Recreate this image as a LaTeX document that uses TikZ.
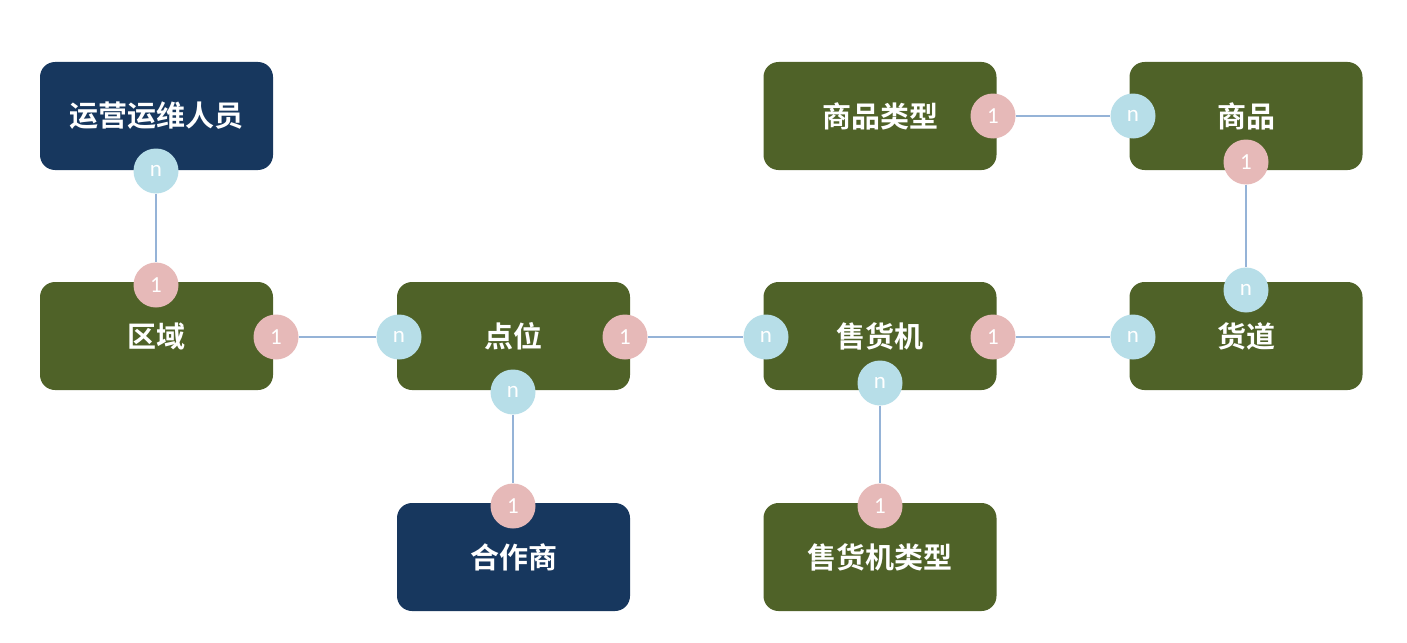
\documentclass[tikz,border=0pt]{standalone}
\usepackage{fontspec}
\newfontfamily\cjk{Noto Sans CJK SC Bold}
\newfontfamily\numfont{Carlito}
\definecolor{navy}{HTML}{17375E}
\definecolor{olive}{HTML}{4F6228}
\definecolor{pinkc}{HTML}{E6B9B8}
\definecolor{bluec}{HTML}{B7DEE8}
\definecolor{linec}{HTML}{95B3D7}
\tikzset{
  ent/.style={rounded corners=15pt, minimum width=233pt, minimum height=108pt, inner sep=0pt, text=white, font=\cjk\fontsize{29}{32}\selectfont},
  entb/.style={ent, fill=navy},
  entg/.style={ent, fill=olive},
  one/.style={circle, fill=pinkc, minimum size=45pt, inner sep=0pt, text=white, font=\numfont\fontsize{23}{24}\selectfont},
  many/.style={circle, fill=bluec, minimum size=45pt, inner sep=0pt, text=white, font=\numfont\fontsize{23}{24}\selectfont},
  rel/.style={draw=linec, line width=1.5pt}
}
\begin{document}
\begin{tikzpicture}[x=1pt,y=-1pt]
\useasboundingbox (0,0) rectangle (1407,642);
% entities
\node[entb] (ops) at (156.5,116) {运营运维人员};
\node[entg] (area) at (156.5,336) {区域};
\node[entg] (pt) at (513.5,336) {点位};
\node[entb] (partner) at (513.5,557) {合作商};
\node[entg] (vm) at (880,336) {售货机};
\node[entg] (vmtype) at (880,557) {售货机类型};
\node[entg] (lane) at (1246,336) {货道};
\node[entg] (skutype) at (880,116) {商品类型};
\node[entg] (sku) at (1246,116) {商品};
% cardinality circles
\node[many] (c1) at (156,171) {n};
\node[one] (c2) at (156,285) {1};
\node[one] (c3) at (276,337) {1};
\node[many] (c4) at (399,337) {n};
\node[one] (c5) at (625,337) {1};
\node[many] (c6) at (766,337) {n};
\node[many] (c7) at (513,392) {n};
\node[one] (c8) at (513,506) {1};
\node[one] (c9) at (993,337) {1};
\node[many] (c10) at (1133,337) {n};
\node[many] (c11) at (880,383) {n};
\node[one] (c12) at (880,506) {1};
\node[one] (c13) at (993,116) {1};
\node[many] (c14) at (1133,116) {n};
\node[one] (c15) at (1246,162) {1};
\node[many] (c16) at (1246,290) {n};
% connectors
\draw[rel] (c1) -- (c2);
\draw[rel] (c3) -- (c4);
\draw[rel] (c5) -- (c6);
\draw[rel] (c7) -- (c8);
\draw[rel] (c9) -- (c10);
\draw[rel] (c11) -- (c12);
\draw[rel] (c13) -- (c14);
\draw[rel] (c15) -- (c16);
\end{tikzpicture}
\end{document}
